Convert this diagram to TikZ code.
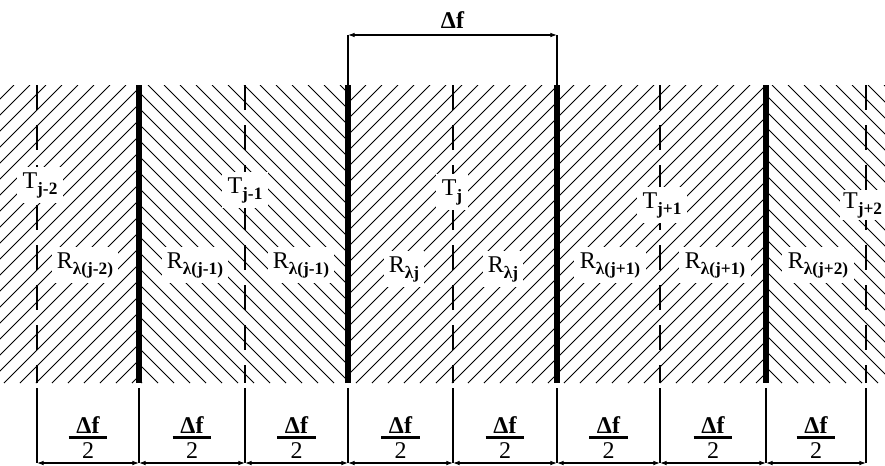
\documentclass[tikz,border=0pt]{standalone}
\usepackage{fontspec}
\setmainfont{Liberation Serif}
\usepackage{tikz}
\usetikzlibrary{arrows.meta}
\newcommand\sbs[1]{\raisebox{-0.55ex}{\fontsize{13}{14}\selectfont\bfseries #1}}
\newcommand\halfdf{\shortstack{\bfseries Δf\\[-1pt]\rule{29pt}{1.6pt}\\[0pt]2}}

\begin{document}
\begin{tikzpicture}[x=0.75pt,y=-0.75pt,
hatch/.style={line width=0.6pt},
wall/.style={line width=4pt},
axisline/.style={line width=0.8pt,dash pattern=on 19pt off 11pt},
extline/.style={line width=0.8pt},
dim/.style={line width=0.8pt,{Latex[length=5pt,width=3.5pt]}-{Latex[length=5pt,width=3.5pt]}},
lbl/.style={fill=white,inner sep=4pt,anchor=base,font=\fontsize{18}{20}\selectfont},
frac/.style={font=\fontsize{18}{20}\selectfont}
]
\useasboundingbox (0,0) rectangle (885,465);

% hatched band
\begin{scope}
\clip (0,85) rectangle (139,383);
\foreach \s in {-300,-284,...,900} \draw[hatch] (\s,383) -- ++(298,-298);
\end{scope}
\begin{scope}
\clip (139,85) rectangle (348,383);
\foreach \s in {-300,-284,...,900} \draw[hatch] (\s,85) -- ++(298,298);
\end{scope}
\begin{scope}
\clip (348,85) rectangle (766,383);
\foreach \s in {-300,-284,...,900} \draw[hatch] (\s,383) -- ++(298,-298);
\end{scope}
\begin{scope}
\clip (766,85) rectangle (885,383);
\foreach \s in {-300,-284,...,900} \draw[hatch] (\s,85) -- ++(298,298);
\end{scope}

% centre lines
\foreach \x in {37,245,453,660,866}
  \draw[axisline] (\x,85) -- (\x,383);

% walls
\foreach \x in {139,348,557,766}
  \draw[wall] (\x,85) -- (\x,383);

% top dimension
\coordinate (ta) at (348,35);
\coordinate (tb) at (557,35);
\coordinate (wa) at (348,85);
\coordinate (wb) at (557,85);
\draw[extline] (ta) -- (wa);
\draw[extline] (tb) -- (wb);
\draw[dim] (ta) -- node[frac,yshift=11pt] (df) {\bfseries Δf} (tb);

% bottom dimensions
\foreach \x [count=\i from 0] in {37,139,245,348,453,557,660,766,866} {
  \coordinate (e\i) at (\x,388);
  \coordinate (d\i) at (\x,463);
  \draw[extline] (e\i) -- (d\i);
}
\foreach \i/\j in {0/1,1/2,2/3,3/4,4/5,5/6,6/7,7/8}
  \draw[dim] (d\i) -- node[frac,yshift=19pt] (h\i) {\halfdf} (d\j);

% labels
\node[lbl] (tm2) at (40,188) {T\sbs{j-2}};
\node[lbl] (tm1) at (245,193) {T\sbs{j-1}};
\node[lbl] (t0) at (452,195) {T\sbs{j}};
\node[lbl] (tp1) at (662,208) {T\sbs{j+1}};
\node[lbl,anchor=base east,inner sep=2pt] (tp2) at (885,208) {T\sbs{j+2}};

\node[lbl] (rm2) at (85,268) {R\sbs{λ(j-2)}};
\node[lbl] (rm1a) at (195,268) {R\sbs{λ(j-1)}};
\node[lbl] (rm1b) at (301,268) {R\sbs{λ(j-1)}};
\node[lbl] (r0a) at (404,272) {R\sbs{λj}};
\node[lbl] (r0b) at (503,272) {R\sbs{λj}};
\node[lbl] (rp1a) at (610,268) {R\sbs{λ(j+1)}};
\node[lbl] (rp1b) at (715,268) {R\sbs{λ(j+1)}};
\node[lbl] (rp2) at (818,268) {R\sbs{λ(j+2)}};

\end{tikzpicture}
\end{document}
